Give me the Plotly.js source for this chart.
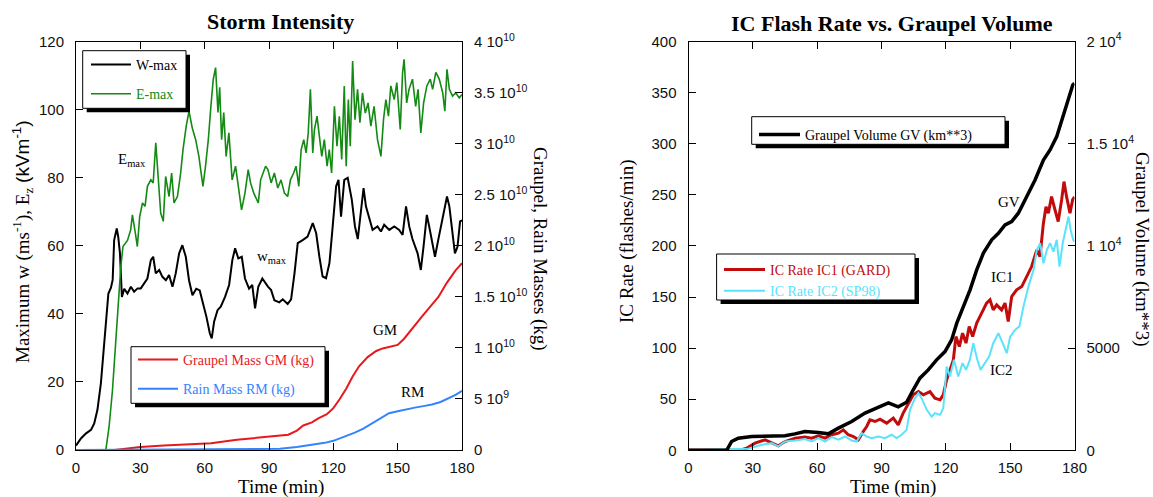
<!DOCTYPE html>
<html><head><meta charset="utf-8">
<script src="https://cdn.plot.ly/plotly-3.0.1.min.js"></script>
<style>html,body{margin:0;padding:0;background:#fff}#chart{width:1153px;height:497px}</style>
</head><body><div id="chart"></div>
<script>
// ---------- Storm Intensity (left panel) ----------
const wmaxT = [0,2.3,4.7,7,8.5,10,11.6,12.9,14,15.1,16.3,17.1,17.8,19,19.7,20.5,21.4,22.5,24,25.6,27.1,28.7,30.2,31.8,33.3,34.9,36,37.2,38.8,40.3,41.9,43.4,45,46.5,48.1,49.6,51.2,52.7,54.3,56.1,57.7,59.2,60.8,62.4,63.3,64.4,66,67.5,69.5,71.4,72.9,74.2,75.7,77.3,78.8,80.7,82.2,83.5,85,86.9,88.4,89.5,91,92.5,94.8,96.4,98.7,100.3,101.9,103.4,105.7,108,110.4,112,113.5,115,116.6,118.2,119.7,121.3,122.4,123.6,125.1,126.7,128.6,130.1,131.4,132.9,134.1,135.2,136.8,138.3,140.6,142.2,143.7,146.1,148.4,150.7,152.3,153.9,155.4,156.9,159.3,160.8,162.1,163.6,164.7,166,167.4,168.9,170.9,173,174.1,175.6,176.7,177.9,179.1,180];
const wmaxV = [1.3,3.4,4.9,5.9,7.8,11.8,19.6,29.4,37.2,46,47.7,50,61.7,65.1,62.6,57.8,45,47.4,46,48,46.5,47.5,47.5,49,50.4,55.8,56.8,51.9,52.9,50.9,49.9,51.4,48,51.9,57.8,60.2,56.8,49.9,45.5,47.4,46.9,43.1,39.2,34.3,32.8,37.7,41.1,42.1,45,48.5,55.8,59.3,56.3,56.8,50.4,47.4,48.5,41.6,48,50.4,48.9,48,47,44,43.4,44.3,42.9,44.3,52,60.8,61.7,62.7,66.7,63.7,56.8,51,50.5,55,65.7,77.5,79.4,68.6,79.4,80,73.6,65.7,62,69.6,77,71.6,67.7,64.7,65.7,64.2,66.2,64.7,65.7,64.7,63.2,71.6,65.7,62,57.8,52.9,60,69.1,65.7,60.8,56.8,61.7,67.7,74.5,71.6,62.7,57.8,59.7,67.2,67.5];

const emaxT = [13.9,15.4,17,18.5,19.8,20.9,21.9,24,25.5,26.3,27.8,28.6,29.7,31,32.2,33.3,34.9,36,37.2,38.4,39.5,40.7,41.8,43.4,44.6,45.7,47.3,48.8,49.9,51.4,52.7,54.2,55.8,57.3,59.2,60.4,61.7,62.9,64,65.1,66.2,67,67.9,68.9,70,71.3,72.8,74.4,75.6,77.2,78.8,80.3,81.4,82.9,85,86.1,88.4,89.5,91,92.5,94.1,95.6,97.2,98.7,100,101.5,102.6,103.9,105,106.2,107.3,108.3,109.3,110.4,111.2,112.4,113.5,114.6,115.8,117.1,118.1,119.2,120.5,121.7,122.8,123.9,125.1,126,127,127.9,129,130.1,131.3,132.4,133.6,134.9,136.2,137.5,139,140.6,142.2,143.4,144.5,145.7,146.8,148.4,149.6,151.2,152.3,153,154.2,155.3,156.9,158.4,159.5,160.8,162.1,163.6,165.2,166.3,167.8,169.4,171,172,173,174.1,175.6,177.1,178.7,180];
const emaxV = [0,6.7,17.5,32.3,44,53.9,59.8,61.6,64.7,69.1,63.2,59.8,68.6,72.6,71.6,77.5,79.4,78.5,90.3,79.4,69.6,67.2,80.4,74.5,81.4,72.6,74.5,81.4,88.3,95.2,99.6,94.7,91.2,86.3,77.5,83.4,91.2,101,108.9,112.4,99.2,106.6,91.2,99.2,86.3,93.2,79.4,83.4,78.5,70.6,75.5,82.4,78.5,75.5,72.6,79.4,83.4,82.4,78.5,81.4,77,79.4,75.5,74.5,79.4,81.4,83.4,77.5,88.3,91.2,87.3,93.2,106,87.3,94.2,98.1,92.2,86.3,91.2,83.4,88.3,81.4,101,89.3,98.1,85.4,107,83.4,103,89.3,114.3,97.1,106,96.2,105,99,102,95.2,101,91.2,86.3,97.1,103,98.1,107,103,108,94.2,111,114.8,102,106,109,101,106,93.2,102,107,109,106,111,109,105,99.6,111.9,106,104,105,103.5,104.5];

const gmT = [18,30,41,50,63,75,89,99,103,106,110,113,117,120,123,126,129,132,136,140,143,146,150,153,157,161,165,169,173,177,180];
const gmKg = [0,0.03e10,0.045e10,0.055e10,0.067e10,0.1e10,0.13e10,0.15e10,0.19e10,0.24e10,0.27e10,0.31e10,0.35e10,0.41e10,0.5e10,0.6e10,0.72e10,0.82e10,0.91e10,0.97e10,0.995e10,1.01e10,1.03e10,1.09e10,1.2e10,1.3e10,1.4e10,1.5e10,1.64e10,1.76e10,1.83e10];

const rmT = [0,40,80,95,103,110,116,120,125,130,134,138,142,146,150,154,158,162,166,170,174,177,180];
const rmKg = [0,0.002e10,0.006e10,0.012e10,0.03e10,0.05e10,0.07e10,0.09e10,0.13e10,0.17e10,0.21e10,0.26e10,0.31e10,0.36e10,0.38e10,0.4e10,0.415e10,0.43e10,0.445e10,0.47e10,0.51e10,0.54e10,0.58e10];

// ---------- IC Flash Rate vs. Graupel Volume (right panel) ----------
const gvT = [0,17.8,20.1,23.2,29.5,37.2,45,49.6,54.3,60.5,65.2,69.9,76.1,82.3,88.5,93.2,97.8,100.2,101.7,104.8,107.9,111.8,115.7,119.6,122.7,125.1,128.2,131.3,134.4,137.5,141.4,144.5,147.6,150.7,153.8,157.7,161.6,165.5,168.6,171.7,174,176.4,179.2,180];
const gvKm3 = [0,0,430,595,675,710,710,805,920,870,805,1085,1410,1820,2110,2325,2125,2250,2350,2960,3530,3935,4425,4830,5400,6220,7030,7850,8825,9645,10295,10620,11025,11190,11600,12410,13225,14200,14695,15345,16160,16980,17875,17950];

const ic1T = [0,18,20,24,27.1,31,35.7,38.8,41.9,45,49.7,54.3,57.4,60.6,63.7,66.8,69.9,72.2,74.5,76.9,79.2,81.5,83.1,84.6,87,89.3,92.4,95.5,97.8,100.1,102.5,104.8,107.2,109.5,112.6,114.9,117.3,118.8,120.4,121.9,123.5,124.7,126.3,127.8,129.4,130.9,132.5,134.4,135.9,137.5,139,140.6,142.1,143.7,146,147.6,149.1,150.7,153,155.4,157.7,160,162.4,163.9,165.5,166.7,167.8,169.3,170.9,172.4,174,175.1,176.3,177.9,179.1,180];
const ic1Rate = [0,0,0,0,2,7,10.3,7,4.4,8.6,11.9,13,11.9,14.2,11.9,15.2,16.8,20,15.2,13.5,10.3,18.4,23.3,29.8,28.2,30.5,26.6,31.5,24.9,36.4,46.2,54.3,57.5,54.3,57.5,51,49.4,54.3,69,78.7,88.5,111.3,101.5,114.6,104.9,121.1,111.3,124.4,130.9,137.4,144,147.2,137.4,142.3,137.4,144,126,150.4,157,160.2,170,179.8,196,189.5,222.2,238.4,232,248.2,235.2,223.8,245,262.9,248.2,232,245,248];

const ic2T = [0,27.9,34.1,38.8,41.9,45,49.7,54.3,57.4,60.6,63.7,66.8,69.9,73,76.1,78.4,80.8,83.1,85.4,88.5,91.6,94.7,97,99.4,101.7,103.3,105.6,107.2,108.7,111.1,113.4,114.9,117.3,118.8,120.4,121.9,123.8,125.8,127.8,129.4,131.2,132.8,134.7,136.2,138.2,140.2,142.1,144.5,146.5,148.4,150,152.3,154.3,156.2,158.5,160.9,162.4,164,165.5,167.1,168.6,170.2,171.7,173,174.5,176.1,177.2,178.2,179.4,180];
const ic2Rate = [0,1.6,5.4,7,3.8,8.6,9.6,11,8.6,11.9,8.6,13,10.3,13.5,9.6,8.6,16.8,13.5,11.9,13.5,11.9,15.2,11.9,15.2,20,39.6,51,55.9,51,39.6,33,36.4,34.7,41.2,82,72.2,88.5,72.2,85.3,78.7,88.5,104.8,88.5,78.7,85.3,91.7,104.8,114.6,104.8,95,111.3,117.8,121.1,140.6,160.2,176.5,196,202.6,183,196,202.6,194.4,205.9,179.8,202.6,218.9,228.7,215.6,205.9,204];

// ---------- tick labels ----------
const timeTicks = [0,30,60,90,120,150,180];
const wTicks = [0,20,40,60,80,100,120];
const massTickVals = [0,5e9,1e10,1.5e10,2e10,2.5e10,3e10,3.5e10,4e10];
const massTickText = ['0','5 10<sup>9</sup>','1 10<sup>10</sup>','1.5 10<sup>10</sup>','2 10<sup>10</sup>','2.5 10<sup>10</sup>','3 10<sup>10</sup>','3.5 10<sup>10</sup>','4 10<sup>10</sup>'];
const rateTicks = [0,50,100,150,200,250,300,350,400];
const volTickVals = [0,5000,10000,15000,20000];
const volTickText = ['0','5000','1 10<sup>4</sup>','1.5 10<sup>4</sup>','2 10<sup>4</sup>'];

// ---------- styling ----------
const W = 1153, H = 497;
const px = x => x / W, py = y => 1 - y / H;
const SANS = 'Liberation Sans, Arial, Helvetica, sans-serif';
const SERIF = 'Liberation Serif, Times New Roman, Times, serif';
const C = {w:'#000000', e:'#138a13', gm:'#e8181c', rm:'#3383ff', gv:'#000000', ic1:'#c20b0b', ic2:'#5ae3fb'};

const traces = [
  {x:wmaxT, y:wmaxV, xaxis:'x', yaxis:'y', mode:'lines', name:'W-max', line:{color:C.w, width:2}, legend:'legend', legendgroup:'a'},
  {x:emaxT, y:emaxV, xaxis:'x', yaxis:'y', mode:'lines', name:'<span style="color:'+C.e+'">E-max</span>', line:{color:C.e, width:1.6}, legend:'legend', legendgroup:'b'},
  {x:gmT, y:gmKg, xaxis:'x', yaxis:'y2', mode:'lines', name:'<span style="color:'+C.gm+'">Graupel Mass GM (kg)</span>', line:{color:C.gm, width:2}, legend:'legend2', legendgroup:'c'},
  {x:rmT, y:rmKg, xaxis:'x', yaxis:'y2', mode:'lines', name:'<span style="color:'+C.rm+'">Rain Mass RM (kg)</span>', line:{color:C.rm, width:2}, legend:'legend2', legendgroup:'d'},
  {x:ic1T, y:ic1Rate, xaxis:'x2', yaxis:'y3', mode:'lines', name:'<span style="color:'+C.ic1+'">IC Rate IC1 (GARD)</span>', line:{color:C.ic1, width:3}, legend:'legend4'},
  {x:ic2T, y:ic2Rate, xaxis:'x2', yaxis:'y3', mode:'lines', name:'<span style="color:'+C.ic2+'">IC Rate IC2 (SP98)</span>', line:{color:C.ic2, width:2}, legend:'legend4'},
  {x:gvT, y:gvKm3, xaxis:'x2', yaxis:'y4', mode:'lines', name:'Graupel Volume GV (km**3)', line:{color:C.gv, width:3.5}, legend:'legend3'}
];

const ax = {showline:true, linecolor:'#000', linewidth:1, ticks:'inside', ticklen:7, tickwidth:1, tickcolor:'#000',
  showgrid:false, zeroline:false, fixedrange:true, tickfont:{family:SANS, size:15, color:'#111'}};

const legBase = {bgcolor:'rgba(0,0,0,0)', borderwidth:0, xanchor:'left', yanchor:'top', traceorder:'grouped',
  font:{family:SERIF, size:14, color:'#000'}};

function frame(x0,y0,x1,y1){
  return [
    {type:'rect', xref:'paper', yref:'paper', x0:px(x0+4), x1:px(x1+4), y0:py(y0+4), y1:py(y1+4), fillcolor:'#000', line:{width:0}, layer:'above'},
    {type:'rect', xref:'paper', yref:'paper', x0:px(x0), x1:px(x1), y0:py(y0), y1:py(y1), fillcolor:'#fff', line:{color:'#000', width:1}, layer:'above'}
  ];
}

function ann(text, x, y, opts){
  return Object.assign({text:text, xref:'paper', yref:'paper', x:px(x), y:py(y), showarrow:false,
    xanchor:'center', yanchor:'middle', font:{family:SERIF, size:19, color:'#000'}}, opts||{});
}
function lbl(text, xr, yr, t, v){
  return {text:text, xref:xr, yref:yr, x:t, y:v, showarrow:false, xanchor:'center', yanchor:'middle',
    font:{family:SERIF, size:15, color:'#000'}};
}

const layout = {
  width:W, height:H, margin:{l:0,r:0,t:0,b:0}, paper_bgcolor:'#fff', plot_bgcolor:'rgba(0,0,0,0)',
  xaxis:Object.assign({}, ax, {domain:[px(76),px(462)], range:[0,180], tickvals:timeTicks, mirror:'ticks', anchor:'y', ticklabelstandoff:4}),
  yaxis:Object.assign({}, ax, {domain:[py(450),py(41.7)], range:[0,120], tickvals:wTicks, anchor:'x', ticklabelstandoff:8}),
  yaxis2:Object.assign({}, ax, {overlaying:'y', side:'right', anchor:'x', range:[0,4e10], tickvals:massTickVals, ticktext:massTickText, ticklabelstandoff:8}),
  xaxis2:Object.assign({}, ax, {domain:[px(688.5),px(1074.5)], range:[0,180], tickvals:timeTicks, mirror:'ticks', anchor:'y3', ticklabelstandoff:4}),
  yaxis3:Object.assign({}, ax, {domain:[py(450.3),py(41.5)], range:[0,400], tickvals:rateTicks, anchor:'x2', ticklabelstandoff:8}),
  yaxis4:Object.assign({}, ax, {overlaying:'y3', side:'right', anchor:'x2', range:[0,20000], tickvals:volTickVals, ticktext:volTickText, ticklabelstandoff:8}),
  showlegend:true,
  legend:Object.assign({}, legBase, {x:px(86), y:py(49), itemwidth:40, tracegroupgap:8}),
  legend2:Object.assign({}, legBase, {x:px(133), y:py(344), itemwidth:40, tracegroupgap:8}),
  legend3:Object.assign({}, legBase, {x:px(754), y:py(119), itemwidth:41}),
  legend4:Object.assign({}, legBase, {x:px(719), y:py(254), itemwidth:41}),
  shapes:[].concat(frame(82.7,50.7,186,108.3), frame(131,346.7,325,403.3), frame(751.7,116.7,1005,144.3), frame(716.6,254,915,300)),
  annotations:[
    ann('<b>Storm Intensity</b>', 280, 22, {font:{family:SERIF, size:22, color:'#000'}}),
    ann('<b>IC Flash Rate vs. Graupel Volume</b>', 892, 24, {font:{family:SERIF, size:22, color:'#000'}}),
    ann('Time (min)', 281, 487),
    ann('Time (min)', 893, 487),
    ann('Maximum w (ms<sup>-1</sup>), E<sub>z</sub> <span style="font-family:Liberation Sans, Arial, sans-serif">(kVm<sup>-1</sup>)</span>', 22, 242, {textangle:-90}),
    ann('Graupel, Rain Masses (kg)', 540, 249, {textangle:90}),
    ann('IC Rate (flashes/min)', 627, 241, {textangle:-90}),
    ann('Graupel Volume (km**3)', 1142, 249, {textangle:90}),
    lbl('E<sub>max</sub>', 'x', 'y', 26.1, 85.2),
    lbl('w<sub>max</sub>', 'x', 'y', 91.4, 56.7),
    lbl('GM', 'x', 'y', 144, 35.3),
    lbl('RM', 'x', 'y', 156.7, 17),
    lbl('GV', 'x2', 'y3', 149.5, 243),
    lbl('IC1', 'x2', 'y3', 146.2, 169.2),
    lbl('IC2', 'x2', 'y3', 146, 78.7)
  ]
};

Plotly.newPlot('chart', traces, layout, {displayModeBar:false, staticPlot:true});
</script></body></html>
